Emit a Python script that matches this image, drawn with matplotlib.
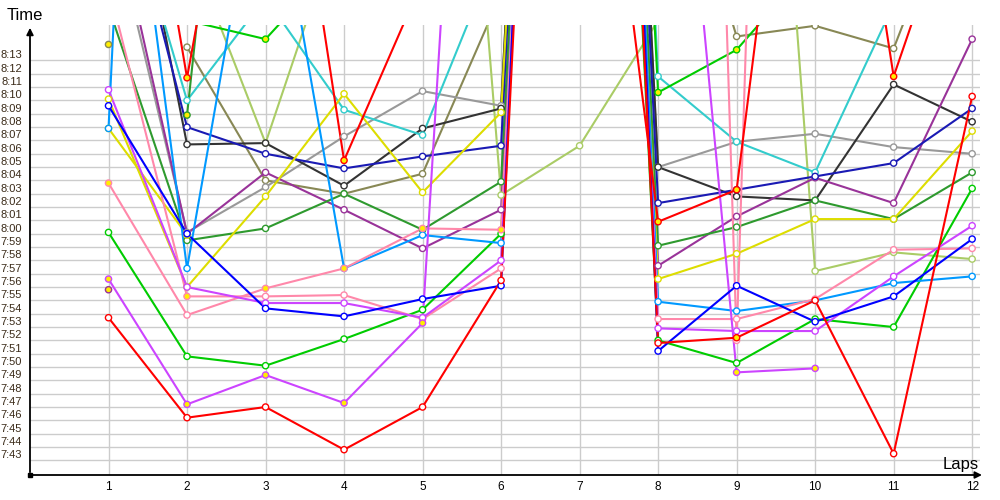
import numpy as np
import matplotlib
matplotlib.use('Agg')
import matplotlib.pyplot as plt
from matplotlib.transforms import blended_transform_factory, offset_copy

# lap times per car, "m:ss.s"; None = no lap; values above 8:15 run off the top
laps = list(range(1, 13))

red1    = ['7:53.7', '7:46.2', '7:47.0', '7:43.8', '7:47.0', '7:56.5', '9:55', '7:51.8', '7:52.2', '7:55.0', '7:43.5', '8:10.3']
red2    = ['8:46.6', '8:11.7', '8:44', '8:05.5', '8:19', '8:25', '8:48', '8:00.9', '8:03.3', '8:50', '8:11.8', '8:29']
green1  = ['8:00.1', '7:50.8', '7:50.1', '7:52.1', '7:54.3', '8:00.0', '9:50', '7:52.0', '7:50.3', '7:53.6', '7:53.0', '8:03.4']
green2  = [None, '8:16', '8:14.6', '8:21', '8:40', '9:10', '10:05', '8:10.6', '8:13.8', '8:20.5', '8:40', '8:50']
dgreen  = ['8:17.0', '7:59.5', '8:00.4', '8:03.0', '8:00.3', '8:03.9', '9:58', '7:59.1', '8:00.5', '8:02.5', '8:01.1', '8:04.6']
dgreen2 = [None, '8:08.9', '9:04', None, None, None, None, None, None, None, None, None]
blue    = ['8:09.6', '8:00.0', '7:54.4', '7:53.8', '7:55.1', '7:56.1', '10:10', '7:51.2', '7:56.1', '7:53.4', '7:55.3', '7:59.6']
navy    = ['8:31', '8:08.0', '8:06.0', '8:04.9', '8:05.8', '8:06.6', '10:00', '8:02.3', '8:03.3', '8:04.3', '8:05.3', '8:09.4']
black   = ['8:36.5', '8:06.7', '8:06.8', '8:03.6', '8:07.9', '8:09.4', '10:02', '8:05.0', '8:02.8', '8:02.5', '8:11.2', '8:08.4']
gray    = ['8:24.7', '8:00.1', '8:03.5', '8:07.3', '8:10.7', '8:09.6', '9:57', '8:05.0', '8:06.9', '8:07.5', '8:06.5', '8:06.0']
purple  = ['8:26.3', '8:00.0', '8:04.6', '8:01.8', '7:58.9', '8:01.8', '9:53', '7:57.6', '8:01.3', '8:04.2', '8:02.3', '8:14.6']
purple2 = ['7:55.8', None, None, None, None, None, None, None, None, None, None, None]
olive   = [None, '8:14.0', '8:04.0', '8:03.0', '8:04.5', '8:18', '10:05', '8:34', '8:14.8', '8:15.6', '8:13.9', '8:29']
olive2  = ['8:14.2', None, None, None, None, None, None, None, None, None, None, None]
lolive  = [None, '8:22', '8:06.8', '8:24.3', '9:16', '8:02.9', '8:06.6', '8:16', '9:16', '7:57.2', '7:58.6', '7:58.1']
cyan    = ['8:30', '8:10.0', '8:17.7', '8:09.3', '8:07.4', '8:21.9', '10:08', '8:11.8', '8:06.9', '8:04.6', '8:17.2', '8:20']
yellow1 = ['8:10.1', '7:56.0', '8:02.8', '8:10.5', '8:03.1', '8:09.1', '9:52', '7:56.6', '7:58.5', '8:01.1', '8:01.1', '8:07.7']
yellow2 = ['8:07.9', '7:59.9', None, None, None, None, None, None, None, None, None, None]
pink1   = ['8:03.8', '7:53.9', '7:55.9', '7:57.4', '8:00.4', '8:00.3', '9:54', '7:53.6', '7:53.6', '7:55.1', '7:58.8', '7:58.9']
pink2   = ['8:18.6', '7:55.3', '7:55.3', '7:55.4', '7:53.6', '7:57.4', '10:00', '11:00', '7:52.0', '11:00', None, None]
magenta1 = ['8:10.8', '7:56.0', '7:54.8', '7:54.8', '7:53.7', '7:58.0', '9:56', '7:52.9', '7:52.7', '7:52.7', '7:56.8', '8:00.6']
magenta2 = ['7:56.6', '7:47.2', '7:49.4', '7:47.3', '7:53.3', '9:30', '9:40', '8:52', '7:49.6', '7:49.9', None, None]
lblue1  = ['8:07.9', '10:10', None, None, None, None, None, None, None, None, None, None]
lblue2  = ['8:42.5', '7:57.4', '8:31', '7:57.4', '7:59.9', '7:59.3', '10:03', '7:54.9', '7:54.2', '7:55.0', '7:56.3', '7:56.8']

# (values, line colour, laps drawn with a yellow marker face)
series = [
    (olive, '#888855', []), (olive2, '#888855', [1]), (lolive, '#aacc66', []),
    (gray, '#999999', []), (black, '#333333', []), (cyan, '#33cccc', []),
    (purple, '#993399', []), (purple2, '#993399', [1]),
    (dgreen, '#2e9a2e', []), (dgreen2, '#2e9a2e', [2]),
    (green2, '#00cc00', [3, 8, 9]), (green1, '#00cc00', []),
    (navy, '#1a1ab4', []), (yellow1, '#dddd00', []), (yellow2, '#dddd00', [1, 2]),
    (lblue1, '#0099ff', []), (lblue2, '#0099ff', []),
    (pink2, '#ff88aa', [2]), (pink1, '#ff88aa', [1, 3, 4, 5, 6]),
    (magenta1, '#cc44ff', []), (magenta2, '#cc44ff', [1, 2, 3, 4, 5, 9, 10]),
    (blue, '#0000ff', []), (red2, '#ff0000', [2, 4, 8, 9, 11]), (red1, '#ff0000', [9]),
]

def sec(t):
    if t is None:
        return np.nan
    m, s = t.split(':')
    return int(m) * 60 + float(s)

fig = plt.figure(figsize=(10, 5), dpi=100)
ax = fig.add_axes([0.03, 0.05, 0.95, 0.90])

for vals, col, yl in series:
    y = np.array([sec(v) for v in vals])
    ax.plot(laps, y, '-', color=col, lw=1.5, zorder=2)
    face = ['#ffee00' if l in yl else 'white' for l in laps]
    ax.scatter(laps, y, s=20, facecolors=face, edgecolors=col, linewidths=1, zorder=3)

ymin, ymax = sec('7:41.9'), sec('8:15.66')
ax.set_ylim(ymin, ymax)
ax.set_xlim(0, 12.1)

# one grid line per second, labels sit a little above their line
ygrid = [sec('7:43') + i for i in range(31)]
ax.set_yticks(ygrid)
ax.set_yticklabels([])
trans = offset_copy(blended_transform_factory(ax.transAxes, ax.transData),
                    fig=fig, x=-8, y=5, units='dots')
for t in ygrid:
    ax.text(0, t, '%d:%02d' % (t // 60, t % 60), transform=trans, ha='right', va='center',
            fontsize=8, color='#3a2a18', family='Liberation Sans')

ax.set_xticks(laps)
ax.set_xticklabels([str(l) for l in laps], fontsize=8.5, family='Liberation Sans')
ax.tick_params(length=0)
ax.tick_params(axis='x', pad=4)

ax.grid(True, color='#cccccc', lw=1, zorder=0)
ax.set_axisbelow(True)
for s in ax.spines.values():
    s.set_visible(False)

ax.annotate('', xy=(0, 1.0), xytext=(0, 0), xycoords='axes fraction',
            arrowprops=dict(arrowstyle='-|>', color='black', lw=1.3, mutation_scale=10))
ax.annotate('', xy=(1.005, 0), xytext=(0, 0), xycoords='axes fraction',
            arrowprops=dict(arrowstyle='-|>', color='black', lw=1.3, mutation_scale=10))
ax.plot(0, 0, 's', color='black', ms=3, transform=ax.transAxes, clip_on=False)

fig.text(0.007, 0.97, 'Time', fontsize=12, va='center', family='Liberation Sans')
fig.text(0.943, 0.072, 'Laps', fontsize=12, va='center', family='Liberation Sans')

plt.savefig('out.png', dpi=100)
plt.close()
